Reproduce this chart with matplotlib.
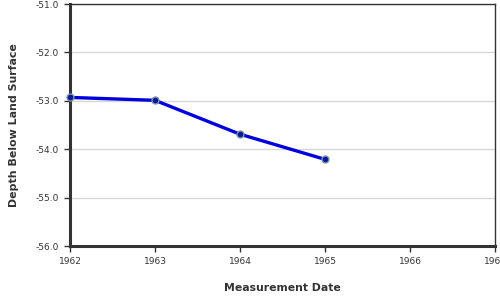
import matplotlib.pyplot as plt

# valores
anios = [1962.0, 1963.0, 1964.0, 1965.0]
profundidad = [-52.93, -52.99, -53.69, -54.21]
yticks = [-56.0, -55.0, -54.0, -53.0, -52.0, -51.0]
xticks = [1962, 1963, 1964, 1965, 1966, 1967]

fig = plt.figure(figsize=(5, 3), dpi=100)
ax = fig.add_axes([70 / 500, 54 / 300, 425 / 500, 242 / 300])

ax.plot(anios, profundidad, color="#0000dd", linewidth=2.4, zorder=3)
ax.plot(anios, profundidad, linestyle="none", marker="o", markersize=5,
        markerfacecolor="#0a1a9a", markeredgecolor="#7d94a8",
        markeredgewidth=1.0, zorder=4, clip_on=False)

ax.set_xlim(1962, 1967)
ax.set_ylim(-56, -51)
ax.set_xticks(xticks)
ax.set_xticklabels([str(t) for t in xticks])
ax.set_yticks(yticks)
ax.set_yticklabels([f"{t:.1f}" for t in yticks])
ax.grid(axis="y", color="#d8d8d8", linewidth=1)
ax.set_axisbelow(True)

for lado in ["left", "bottom"]:
    ax.spines[lado].set_linewidth(2.2)
    ax.spines[lado].set_color("#333333")
for lado in ["top", "right"]:
    ax.spines[lado].set_linewidth(1)
    ax.spines[lado].set_color("#333333")

ax.tick_params(direction="out", length=4, width=1, color="#333333",
               labelsize=6.5, labelcolor="#333333", pad=4)

ax.set_xlabel("Measurement Date", fontsize=7.8, fontweight="bold",
              color="#333333", labelpad=12)
ax.set_ylabel("Depth Below Land Surface", fontsize=7.9, fontweight="bold",
              color="#333333", labelpad=12)

fig.savefig("out.png", dpi=100)
